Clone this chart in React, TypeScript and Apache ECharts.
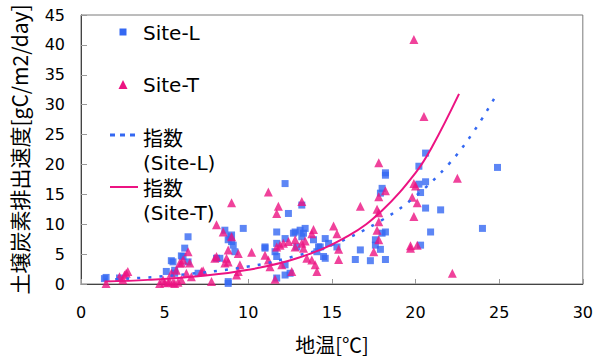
import React, { useEffect, useRef } from "react";
import * as echarts from "echarts";

// Site-L (soil temperature °C, CO2 efflux gC/m2/day)
const siteL: number[][] = [
  [1.4, 0.9], [1.5, 1.1], [2.3, 1.0],
  [5.1, 2.1], [5.4, 3.9], [5.5, 3.7], [5.6, 2.3], [5.6, 1.8], [6.0, 4.7], [6.1, 4.6], [6.2, 6.0],
  [6.4, 7.9], [6.4, 3.7], [7.0, 1.8],
  [8.1, 4.3], [8.3, 4.3], [8.6, 9.0], [8.8, 7.4], [8.8, 0.1], [8.8, 0.4], [8.9, 7.9], [9.0, 8.2],
  [9.0, 7.1], [9.1, 6.5], [9.2, 5.4], [9.7, 9.3],
  [11.0, 6.2], [11.0, 6.0], [11.6, 5.4], [11.7, 4.6], [11.7, 6.8], [11.7, 8.7], [11.7, 1.0],
  [12.2, 16.8], [12.4, 11.8], [12.2, 7.6], [12.2, 3.2], [12.2, 1.5], [12.5, 1.8], [12.7, 8.5],
  [12.8, 8.7], [12.9, 6.2], [13.1, 9.0], [13.2, 7.9], [13.2, 13.2], [13.3, 8.5], [13.4, 9.3],
  [13.9, 7.4], [14.1, 5.4], [14.2, 6.2], [14.3, 6.2], [14.5, 4.6], [14.6, 7.6], [14.6, 4.3],
  [14.8, 6.8], [15.3, 6.2],
  [16.4, 4.1], [16.7, 5.7], [17.3, 3.9], [17.6, 6.5], [17.6, 7.4], [17.9, 5.8], [17.9, 15.2],
  [18.0, 16.0], [18.0, 8.5], [18.2, 8.7], [18.2, 4.1], [18.2, 18.2], [18.2, 18.6],
  [20.2, 19.7], [20.2, 16.7], [20.3, 15.3], [20.3, 6.5], [20.6, 21.9], [20.6, 17.1], [20.6, 12.7],
  [20.9, 8.7], [21.5, 12.4], [24.0, 9.3], [24.9, 19.5],
];

// Site-T
const siteT: number[][] = [
  [1.5, 0.1], [2.3, 1.2], [2.5, 0.7], [2.6, 1.5], [2.7, 1.8], [2.8, 2.1],
  [4.7, 0.1], [4.9, 0.7], [5.0, 0.2], [5.2, 0.3], [5.3, 0.4], [5.4, 1.8], [5.5, 0.2], [5.6, 0.1],
  [5.7, 2.3], [5.8, 0.3], [5.9, 3.5], [6.0, 0.7], [6.0, 3.5], [6.1, 4.0], [6.3, 1.8], [6.4, 5.4],
  [6.5, 3.5], [6.6, 1.2],
  [7.2, 2.1], [7.3, 2.2], [7.8, 0.4], [8.0, 4.3], [8.1, 4.6], [8.1, 9.9], [8.5, 8.7], [8.6, 3.5],
  [8.7, 4.3], [8.8, 5.7], [8.8, 3.7], [9.0, 7.9], [9.0, 13.6], [9.3, 1.5], [9.4, 2.1], [9.4, 5.1],
  [9.5, 3.2],
  [10.2, 5.3], [11.0, 4.8], [11.2, 4.0], [11.2, 15.4], [11.3, 2.9], [11.6, 0.8], [11.7, 6.2],
  [11.7, 11.8], [11.8, 13.0], [11.9, 6.5], [12.0, 3.2], [12.1, 6.8], [12.4, 7.1], [12.6, 2.1],
  [12.8, 7.4], [12.8, 6.2], [13.2, 6.8], [13.2, 13.8], [13.3, 6.0], [13.4, 7.2], [13.5, 4.3],
  [13.8, 8.4], [13.8, 4.0], [13.9, 9.1], [14.0, 3.2], [14.1, 2.1],
  [15.1, 9.7], [15.3, 8.4], [15.4, 5.8], [15.4, 4.1], [16.7, 13.0], [17.5, 5.4], [17.7, 12.5],
  [17.7, 9.0], [17.8, 14.6], [17.8, 11.9], [17.8, 10.4], [17.8, 7.4], [17.8, 20.3], [18.2, 15.6],
  [19.7, 6.4], [19.7, 6.0], [19.8, 14.5], [19.9, 40.9], [19.9, 16.8], [19.9, 11.3], [20.0, 16.4],
  [20.1, 13.6], [20.1, 6.5], [20.5, 28.0], [22.2, 1.8], [22.5, 17.7],
];

// Exponential trend lines
const trendL: number[][] = [
  [1.4, 0.73], [5, 1.31], [10, 2.92], [13, 4.8], [15, 6.5], [18, 10.7], [20, 14.7],
  [22, 20.1], [23.5, 25.6], [24.8, 31.5],
];
const trendT: number[][] = [
  [1.4, 0.41], [4, 0.69], [7, 1.28], [10, 2.37], [13, 4.38], [16, 8.1], [18, 12.3],
  [20, 18.6], [21, 23.0], [22.6, 31.8],
];

const xTicks = { min: 0, max: 30, interval: 5 };
const yTicks = { min: 0, max: 45, interval: 5 };

const BLUE = "#3468f2";
const PINK = "#ec1382";
const LATIN = '"DejaVu Sans", "Noto Sans CJK JP", sans-serif';
const CJK = '"Noto Sans CJK JP", "DejaVu Sans", sans-serif';

export default function App() {
  const ref = useRef<HTMLDivElement>(null);
  useEffect(() => {
    if (!ref.current) return;
    const chart = echarts.init(ref.current, null, { renderer: "svg" });
    const legendX = 110;
    chart.setOption({
      animation: false,
      backgroundColor: "#ffffff",
      grid: {
        left: 79, top: 15, right: 12, bottom: 77,
        show: true, borderColor: "#7a7a7a", borderWidth: 1, backgroundColor: "transparent",
      },
      xAxis: {
        type: "value",
        min: xTicks.min, max: xTicks.max, interval: xTicks.interval,
        name: "地温[℃]",
        nameLocation: "middle",
        nameGap: 50,
        nameTextStyle: { fontFamily: CJK, fontSize: 20, color: "#000" },
        axisLine: { show: true, lineStyle: { color: "#444", width: 1 } },
        axisTick: { show: true, inside: true, length: 5, lineStyle: { color: "#999" } },
        axisLabel: { fontFamily: LATIN, fontSize: 16, color: "#000", margin: 20 },
        splitLine: { show: false },
      },
      yAxis: {
        type: "value",
        min: yTicks.min, max: yTicks.max, interval: yTicks.interval,
        name: "土壌炭素排出速度[gC/m2/day]",
        nameLocation: "middle",
        nameRotate: 90,
        nameGap: 52,
        nameTextStyle: { fontFamily: CJK, fontSize: 21, color: "#000" },
        axisLine: { show: true, lineStyle: { color: "#444", width: 1 } },
        axisTick: { show: true, inside: true, length: 6, lineStyle: { color: "#999" } },
        axisLabel: { fontFamily: LATIN, fontSize: 16, color: "#000", margin: 16 },
        splitLine: { show: false },
      },
      series: [
        {
          name: "Site-L", type: "scatter", data: siteL,
          symbol: "rect", symbolSize: 7,
          itemStyle: { color: BLUE },
        },
        {
          name: "Site-T", type: "scatter", data: siteT,
          symbol: "triangle", symbolSize: 9,
          itemStyle: { color: PINK },
        },
        {
          name: "指数(Site-L)", type: "line", data: trendL, smooth: 0.4,
          showSymbol: false, symbol: "none",
          lineStyle: { color: BLUE, width: 2.5, type: [3, 8] },
        },
        {
          name: "指数(Site-T)", type: "line", data: trendT, smooth: 0.4,
          showSymbol: false, symbol: "none",
          lineStyle: { color: PINK, width: 2 },
        },
      ],
      graphic: [
        { type: "rect", shape: { x: 119.5, y: 28.5, width: 7, height: 7 }, style: { fill: BLUE } },
        { type: "text", x: 143, y: 33, style: { text: "Site-L", font: `20px ${LATIN}`, fill: "#000", verticalAlign: "middle" } },
        { type: "polygon", shape: { points: [[123, 80], [118.5, 89], [127.5, 89]] }, style: { fill: PINK } },
        { type: "text", x: 143, y: 85, style: { text: "Site-T", font: `20px ${LATIN}`, fill: "#000", verticalAlign: "middle" } },
        { type: "line", shape: { x1: legendX, y1: 135, x2: 138, y2: 135 }, style: { stroke: BLUE, lineWidth: 3, lineDash: [5, 5] } },
        { type: "text", x: 143, y: 137, style: { text: "指数", font: `20px ${CJK}`, fill: "#000", verticalAlign: "middle" } },
        { type: "text", x: 143, y: 163, style: { text: "(Site-L)", font: `20px ${LATIN}`, fill: "#000", verticalAlign: "middle" } },
        { type: "line", shape: { x1: legendX, y1: 187, x2: 138, y2: 187 }, style: { stroke: PINK, lineWidth: 2 } },
        { type: "text", x: 143, y: 187, style: { text: "指数", font: `20px ${CJK}`, fill: "#000", verticalAlign: "middle" } },
        { type: "text", x: 143, y: 213, style: { text: "(Site-T)", font: `20px ${LATIN}`, fill: "#000", verticalAlign: "middle" } },
      ],
    });
    return () => chart.dispose();
  }, []);
  return <div ref={ref} style={{ width: 596, height: 361, position: "absolute", left: 0, top: 0 }} />;
}
